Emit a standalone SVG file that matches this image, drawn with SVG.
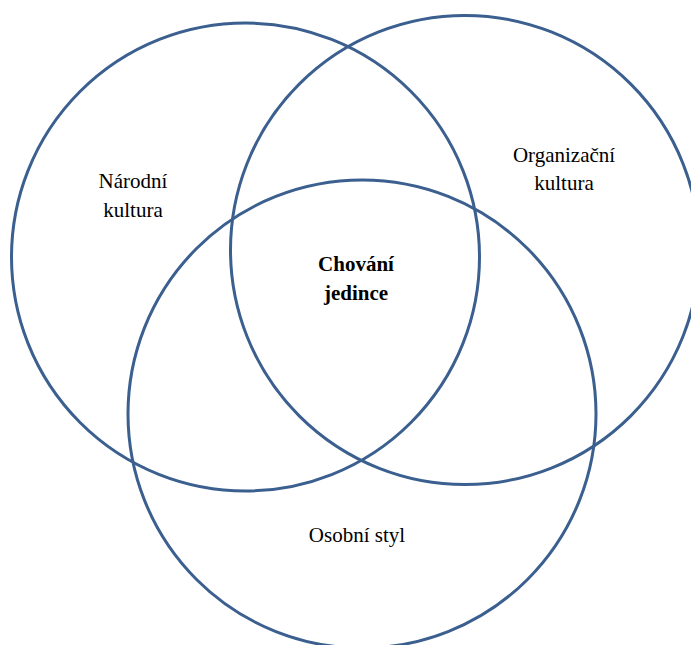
<svg xmlns="http://www.w3.org/2000/svg" width="691" height="645" viewBox="0 0 691 645">
<style>
.c{fill:none;stroke:#3b5f8f;stroke-width:3}
.t{font-family:"Liberation Serif","Times New Roman",serif;font-size:21px;fill:#000;text-anchor:middle}
.b{font-weight:bold}
</style>
<rect width="691" height="645" fill="#fff"/>
<g id="narodni">
<circle class="c" cx="245.5" cy="257" r="234"/>
<text class="t" x="133" y="188">Národní</text>
<text class="t" x="133" y="217">kultura</text>
</g>
<g id="organizacni">
<circle class="c" cx="465" cy="250" r="234.5"/>
<text class="t" x="564" y="162">Organizační</text>
<text class="t" x="564" y="190">kultura</text>
</g>
<g id="osobni">
<circle class="c" cx="362" cy="414" r="234"/>
<text class="t" x="357" y="542">Osobní styl</text>
</g>
<g id="chovani">
<text class="t b" x="356" y="271">Chování</text>
<text class="t b" x="356" y="300">jedince</text>
</g>
<g id="connectors"/>
</svg>
